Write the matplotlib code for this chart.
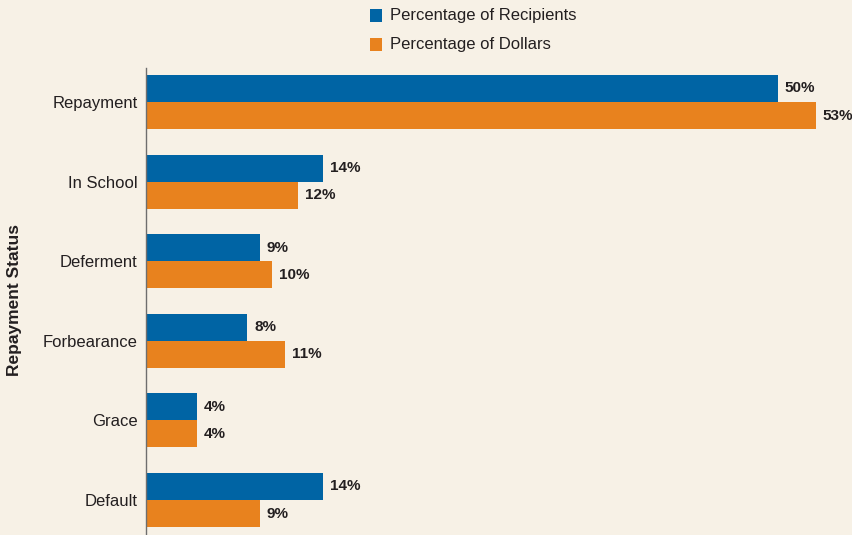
import matplotlib

matplotlib.use("Agg")

import matplotlib.pyplot as plt
import numpy as np
from matplotlib.patches import Rectangle

CATEGORIES = ["Repayment", "In School", "Deferment", "Forbearance", "Grace", "Default"]
RECIPIENTS = [50, 14, 9, 8, 4, 14]
DOLLARS = [53, 12, 10, 11, 4, 9]
SERIES_NAMES = ["Percentage of Recipients", "Percentage of Dollars"]

BLUE = "#0064A4"
ORANGE = "#E8821E"
BG = "#F7F1E6"
TEXT = "#231F20"
FONT = ["Liberation Sans", "DejaVu Sans"]

W, H = 853, 535

fig = plt.figure(figsize=(W / 100.0, H / 100.0), dpi=100)
fig.patch.set_facecolor(BG)

# axes from x=146px to the right edge, y from 68px down to the bottom edge
ax = fig.add_axes([146 / W, 0.0, 1 - 146 / W, (H - 68) / H])
ax.set_facecolor(BG)

y = np.arange(len(CATEGORIES))
bar_h = 0.34
ax.barh(y - bar_h / 2, RECIPIENTS, height=bar_h, color=BLUE, linewidth=0)
ax.barh(y + bar_h / 2, DOLLARS, height=bar_h, color=ORANGE, linewidth=0)

for yi, val in zip(y, RECIPIENTS):
    ax.text(val + 0.55, yi - bar_h / 2, f"{val}%", va="center", ha="left",
            fontsize=11, fontweight="bold", color=TEXT, family=FONT, clip_on=False)
for yi, val in zip(y, DOLLARS):
    ax.text(val + 0.55, yi + bar_h / 2, f"{val}%", va="center", ha="left",
            fontsize=11, fontweight="bold", color=TEXT, family=FONT, clip_on=False)

ax.set_xlim(0, (W - 146) / 12.64)
ax.set_ylim(len(CATEGORIES) - 1 + 0.44, -0.427)
ax.set_yticks(y)
ax.set_yticklabels(CATEGORIES, fontsize=12, color=TEXT, family=FONT)
ax.tick_params(axis="y", length=0, pad=6)
ax.set_xticks([])
for side in ("top", "right", "bottom"):
    ax.spines[side].set_visible(False)
ax.spines["left"].set_color("#6E6E6E")
ax.spines["left"].set_linewidth(1.0)

fig.text(14.5 / W, 1 - 300.5 / H, "Repayment Status", rotation=90, ha="center", va="center",
         fontsize=12.5, fontweight="bold", color=TEXT, family=FONT)

# legend
for i, (name, col) in enumerate(zip(SERIES_NAMES, [BLUE, ORANGE])):
    top = 9 + i * 29
    fig.patches.append(Rectangle((370 / W, 1 - (top + 13) / H), 12 / W, 13 / H,
                                 transform=fig.transFigure, color=col, linewidth=0))
    fig.text(390 / W, 1 - (top + 6.5) / H, name, ha="left", va="center",
             fontsize=12, color=TEXT, family=FONT)

fig.savefig("out.png", dpi=100, facecolor=BG)
